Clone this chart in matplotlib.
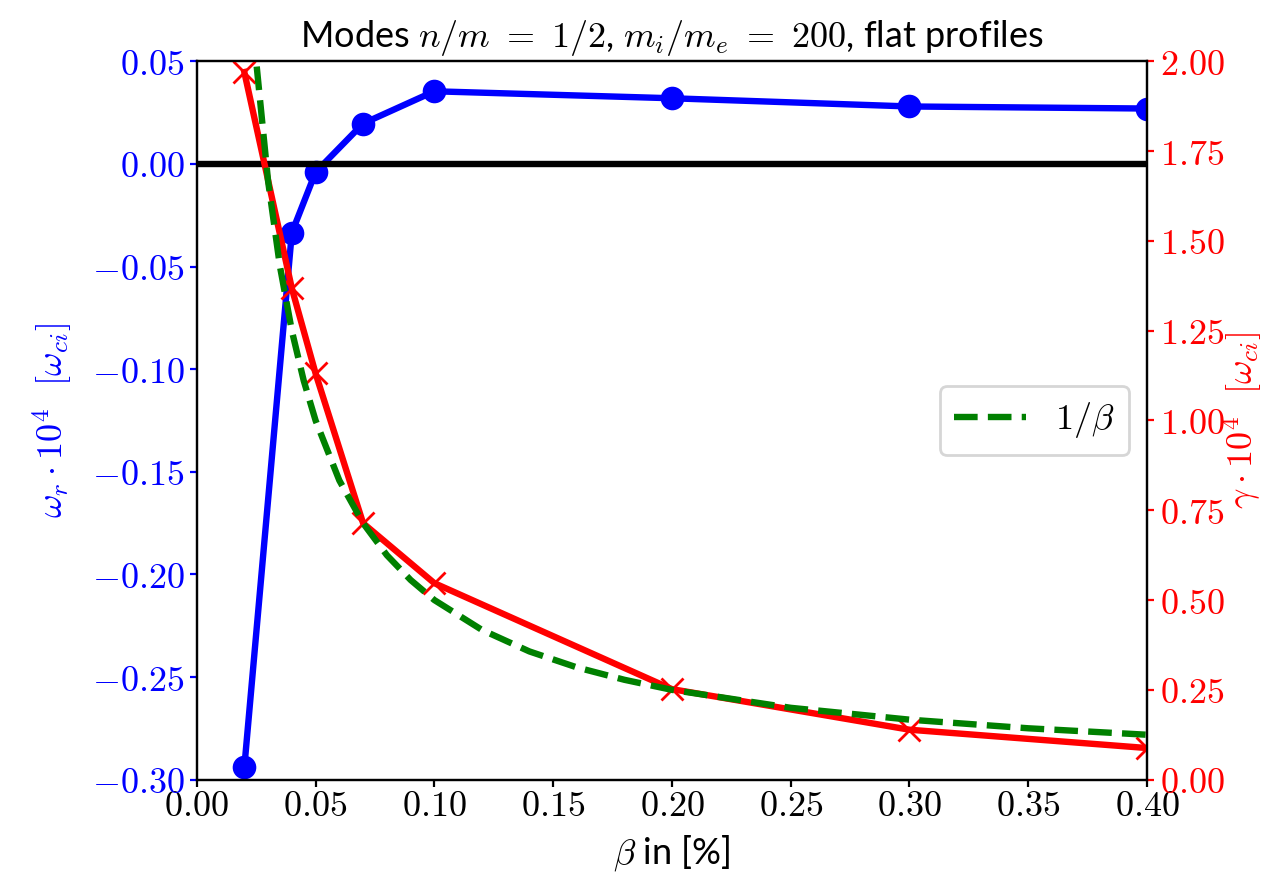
import numpy as np
import matplotlib
matplotlib.use('Agg')
import matplotlib.pyplot as plt
from matplotlib.ticker import FuncFormatter, MultipleLocator

plt.rcParams['mathtext.fontset'] = 'cm'
plt.rcParams['font.family'] = ['Lato', 'DejaVu Sans']

# beta in [%]
beta = [0.02, 0.04, 0.05, 0.07, 0.10, 0.20, 0.30, 0.40]
# real frequency and growth rate (x 1e4, in units of omega_ci)
omega_r = [-0.294, -0.0335, -0.004, 0.0197, 0.0354, 0.032, 0.028, 0.027]
gamma = [1.970, 1.368, 1.131, 0.714, 0.547, 0.252, 0.139, 0.088]

# 1/beta reference curve (scaled)
beta_ref = [0.02, 0.025, 0.03, 0.035, 0.04, 0.045, 0.05, 0.06, 0.07, 0.08,
            0.09, 0.10, 0.12, 0.14, 0.16, 0.18, 0.20, 0.25, 0.30, 0.35, 0.40]
inv_beta = [2.5, 2.0, 1.667, 1.429, 1.25, 1.111, 1.0, 0.833, 0.714, 0.625,
            0.556, 0.5, 0.417, 0.357, 0.3125, 0.278, 0.25, 0.2, 0.167, 0.143, 0.125]

fs = 13
fmt = FuncFormatter(lambda v, p: r'$%.2f$' % v)

fig = plt.figure(figsize=(6.39, 4.38), dpi=200)
ax1 = fig.add_axes([0.154, 0.110, 0.7435, 0.820])
ax2 = ax1.twinx()

ax1.plot(beta, omega_r, color='blue', lw=2.3, marker='o', markersize=7.5)
ax1.axhline(0, color='black', lw=2.3)
ax1.set_xlim(0, 0.40)
ax1.set_ylim(-0.30, 0.05)
ax1.xaxis.set_major_locator(MultipleLocator(0.05))
ax1.yaxis.set_major_locator(MultipleLocator(0.05))
ax1.xaxis.set_major_formatter(fmt)
ax1.yaxis.set_major_formatter(fmt)
ax1.tick_params(axis='y', colors='blue', labelsize=fs, length=2.5, pad=2)
ax1.tick_params(axis='x', labelsize=fs, length=2.5, pad=1)
ax1.set_ylabel(r'$\omega_r \cdot 10^4\ \ [\omega_{ci}]$', color='blue', fontsize=fs, labelpad=6)
ax1.set_xlabel(r'$\beta$ in [%]', fontsize=fs, labelpad=4)
ax1.set_title(r'Modes $n/m\ =\ 1/2$, $m_i/m_e\ =\ 200$, flat profiles', fontsize=fs, pad=5)

ax2.plot(beta, gamma, color='red', lw=2.3, marker='x', markersize=8)
ax2.plot(beta_ref, inv_beta, color='green', lw=2.3, ls='--', label=r'$1/\beta$')
ax2.set_ylim(0, 2.0)
ax2.yaxis.set_major_locator(MultipleLocator(0.25))
ax2.yaxis.set_major_formatter(fmt)
ax2.tick_params(axis='y', colors='red', labelsize=fs, length=2.5, pad=2)
ax2.set_ylabel(r'$\gamma \cdot 10^4\ \ [\omega_{ci}]$', color='red', fontsize=fs, labelpad=-1)
ax2.legend(loc='center right', fontsize=fs)

fig.savefig('out.png', dpi=200)
